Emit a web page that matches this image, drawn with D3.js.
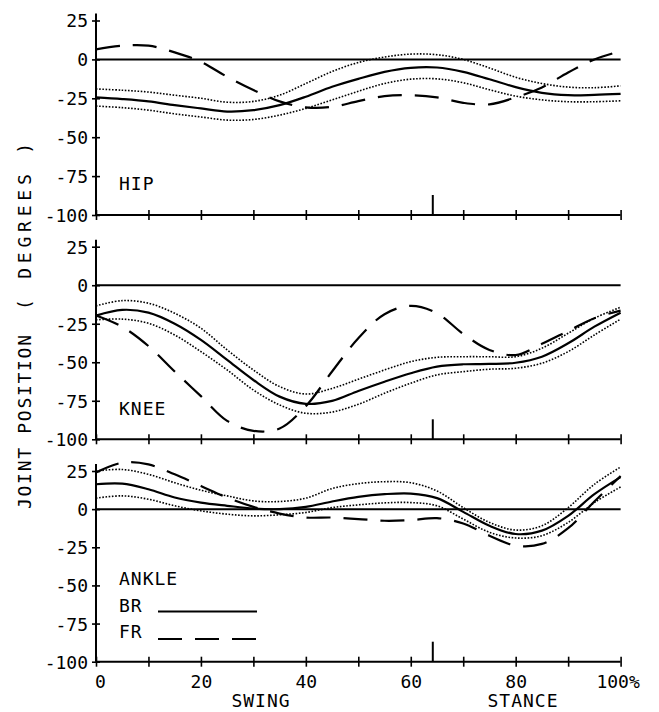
<!DOCTYPE html>
<html>
<head>
<meta charset="utf-8">
<script src="https://cdn.jsdelivr.net/npm/d3@7"></script>
<style>
  html, body { margin: 0; padding: 0; background: #fff; }
  svg { display: block; }
  text { font-family: "DejaVu Sans Mono", "Liberation Mono", monospace; fill: #000; }
</style>
</head>
<body>
<svg id="chart" width="659" height="712"></svg>
<script>
// ---------- DATA ----------
const pct = [0, 5, 10, 15, 20, 25, 30, 35, 40, 45, 50, 55, 60, 65, 70, 75, 80, 85, 90, 95, 100];
const yTicks = [25, 0, -25, -50, -75, -100];
const xTicks = [0, 10, 20, 30, 40, 50, 60, 70, 80, 90, 100];
const xTickLabels = ["0", "", "20", "", "40", "", "60", "", "80", "", "100%"];
const toeOff = 64.2;

const hipBR    = [-24.4, -25.5, -27, -29.4, -31.5, -33.5, -32.6, -29.4, -24, -17.6, -12.5, -8, -5.4, -5.2, -8, -12.8, -17.8, -21.5, -23, -22.8, -22.2];
const hipBRhi  = [-19, -19.8, -21, -23, -25, -27.5, -27, -23, -15.5, -7.8, -2, 1.5, 3.4, 3, 0, -5.5, -11.5, -15.5, -17.8, -18.2, -17];
const hipBRlo  = [-30, -31, -32.6, -35, -37, -39, -38.6, -35.8, -31.5, -26, -20.5, -15.5, -12.7, -12.5, -15, -19.5, -23.6, -26, -27.2, -27.2, -26.6];
const hipFR    = [6.4, 8.8, 8.8, 4.5, -1.5, -11.2, -19.7, -27, -30.8, -30.5, -26.8, -23.6, -23, -24.4, -27.9, -28.9, -24.4, -18, -8.4, 0, 5.3];

const kneeBR   = [-19.7, -16, -17.8, -25, -35.5, -48.5, -61.5, -72.3, -77, -75.1, -68.6, -62.6, -57.1, -52.8, -51.3, -51.1, -50.3, -46.4, -37.7, -26.9, -17.8];
const kneeBRhi = [-13.4, -10, -11.7, -18.2, -27.9, -42, -55, -65.8, -70.6, -67, -61, -55, -49.6, -46.8, -46.4, -46.4, -46.4, -40.9, -31.2, -21.4, -14.3];
const kneeBRlo = [-22.5, -22, -24.7, -32.3, -43.1, -55, -68, -77.7, -83.1, -82.3, -77.3, -70.1, -63.6, -58.2, -56.1, -54.5, -53.9, -50.6, -43.1, -32.3, -22];
const kneeFR   = [-19.7, -27, -39.5, -56, -72, -88, -94.5, -93, -78.5, -56, -34.4, -18.8, -13.4, -18.2, -31.6, -42, -45.3, -38, -29.7, -21.4, -16.5];

const ankleBR   = [16.3, 16.7, 13, 7.6, 4.3, 2.2, 0.4, 0, 1.5, 5, 8, 9.8, 10.2, 7.2, -1.8, -10.9, -16.3, -14.1, -4.4, 9.8, 21];
const ankleBRhi = [25, 26, 22.8, 17.3, 12.4, 8.7, 5.4, 5, 7.2, 13.5, 16.7, 18, 17.3, 11.9, 1, -8.7, -13.7, -10.9, 1, 16.3, 27.6];
const ankleBRlo = [7.2, 8.7, 6.5, 2.2, -1.1, -3.3, -4.4, -3.7, -2.2, 1, 2.8, 4.1, 4.3, 2.2, -6.5, -15.2, -18.9, -17.4, -8.7, 4.3, 14.5];
const ankleFR   = [24, 30.4, 29.3, 22.8, 15.2, 7.6, 1.5, -2.9, -5.5, -5.5, -6.5, -7.6, -7.2, -5.9, -9.4, -17.4, -23.9, -22.8, -12.5, 5, 21.7];

const panelNames = ["HIP", "KNEE", "ANKLE"];
const legendNames = ["BR", "FR"];

// ---------- LAYOUT ----------
const svg = d3.select("#chart");
const x = d3.scaleLinear().domain([0, 100]).range([96, 620.6]);
const panelBoxes = [
  { top: 20.5, bottom: 215 },
  { top: 246.7, bottom: 439.3 },
  { top: 471, bottom: 661.7 }
];
const panels = [
  { name: panelNames[0], br: hipBR, hi: hipBRhi, lo: hipBRlo, fr: hipFR },
  { name: panelNames[1], br: kneeBR, hi: kneeBRhi, lo: kneeBRlo, fr: kneeFR },
  { name: panelNames[2], br: ankleBR, hi: ankleBRhi, lo: ankleBRlo, fr: ankleFR }
];

const FONT = 18;
const DASH = "24,13";
const DOT = "1.6,1.6";

panels.forEach((p, i) => {
  const box = panelBoxes[i];
  const y = d3.scaleLinear().domain([-100, 25]).range([box.bottom, box.top]);
  const g = svg.append("g");

  // y axis
  const ya = g.append("g").attr("transform", `translate(${x(0)},0)`)
    .call(d3.axisLeft(y).tickValues(yTicks).tickSize(4).tickPadding(4).tickFormat(d => d3.format("d")(d).replace("−", "-")));
  ya.select(".domain").remove();
  ya.selectAll(".tick line").attr("x1", -4).attr("x2", 4).attr("stroke", "#000").attr("stroke-width", 1.6);
  ya.selectAll(".tick text").attr("font-size", FONT).attr("font-family", "DejaVu Sans Mono").attr("fill", "#000").attr("dy", "0.36em");
  g.append("line").attr("x1", x(0)).attr("x2", x(0)).attr("y1", y(25) - 7).attr("y2", y(-100))
    .attr("stroke", "#000").attr("stroke-width", 2);

  // x axis at -100
  const xa = g.append("g").attr("transform", `translate(0,${y(-100)})`)
    .call(d3.axisBottom(x).tickValues(xTicks).tickSize(5).tickPadding(4)
      .tickFormat((d, k) => i === 2 ? xTickLabels[k] : ""));
  xa.select(".domain").attr("stroke", "#000").attr("stroke-width", 2).attr("d", `M${x(0)},0H${x(100)}`);
  xa.selectAll(".tick line").attr("y1", -5).attr("y2", 5).attr("stroke", "#000").attr("stroke-width", 1.6);
  xa.selectAll(".tick text").attr("font-size", FONT).attr("font-family", "DejaVu Sans Mono").attr("fill", "#000")
    .attr("dy", "0.95em")
    .attr("dx", (d) => d === 0 ? 4 : (d === 100 ? -3 : 0));

  // zero line
  g.append("line").attr("x1", x(0)).attr("x2", x(100)).attr("y1", y(0)).attr("y2", y(0))
    .attr("stroke", "#000").attr("stroke-width", 2);

  // toe-off marker
  g.append("line").attr("x1", x(toeOff)).attr("x2", x(toeOff)).attr("y1", y(-100)).attr("y2", y(-100) - 20)
    .attr("stroke", "#000").attr("stroke-width", 2);

  const line = vals => d3.line().x((d, k) => x(pct[k])).y(d => y(d)).curve(d3.curveCatmullRom.alpha(0.5))(vals);

  g.append("path").attr("d", line(p.hi)).attr("fill", "none").attr("stroke", "#000").attr("stroke-width", 1.6).attr("stroke-dasharray", DOT);
  g.append("path").attr("d", line(p.lo)).attr("fill", "none").attr("stroke", "#000").attr("stroke-width", 1.6).attr("stroke-dasharray", DOT);
  g.append("path").attr("d", line(p.br)).attr("fill", "none").attr("stroke", "#000").attr("stroke-width", 2.2);
  g.append("path").attr("d", line(p.fr)).attr("fill", "none").attr("stroke", "#000").attr("stroke-width", 2.2).attr("stroke-dasharray", DASH);

  // panel label
  const labelY = [190, 415, 585][i];
  g.append("text").attr("x", 119).attr("y", labelY).attr("font-size", FONT).attr("letter-spacing", 1).text(p.name);

  if (i === 2) {
    // legend
    const lg = g.append("g");
    lg.append("text").attr("x", 119).attr("y", 612).attr("font-size", FONT).attr("letter-spacing", 1).text(legendNames[0]);
    lg.append("text").attr("x", 119).attr("y", 638).attr("font-size", FONT).attr("letter-spacing", 1).text(legendNames[1]);
    lg.append("line").attr("x1", 158).attr("x2", 257).attr("y1", 611.5).attr("y2", 611.5).attr("stroke", "#000").attr("stroke-width", 2);
    lg.append("line").attr("x1", 158).attr("x2", 257).attr("y1", 639).attr("y2", 639).attr("stroke", "#000").attr("stroke-width", 2).attr("stroke-dasharray", DASH);
  }
});

// x axis titles
svg.append("text").attr("x", 261).attr("y", 707).attr("text-anchor", "middle").attr("font-size", FONT).attr("letter-spacing", 1).text("SWING");
svg.append("text").attr("x", 523).attr("y", 707).attr("text-anchor", "middle").attr("font-size", FONT).attr("letter-spacing", 1).text("STANCE");

// y axis title (rotated)
const yt = svg.append("g").attr("transform", "translate(31,0) rotate(-90)");
yt.append("text").attr("x", -509).attr("y", 0).attr("font-size", FONT)
  .attr("textLength", 174).attr("lengthAdjust", "spacing").text("JOINT POSITION");
yt.append("text").attr("x", -310).attr("y", 0).attr("font-size", FONT)
  .attr("textLength", 167).attr("lengthAdjust", "spacing").text("( DEGREES )");
</script>
</body>
</html>
